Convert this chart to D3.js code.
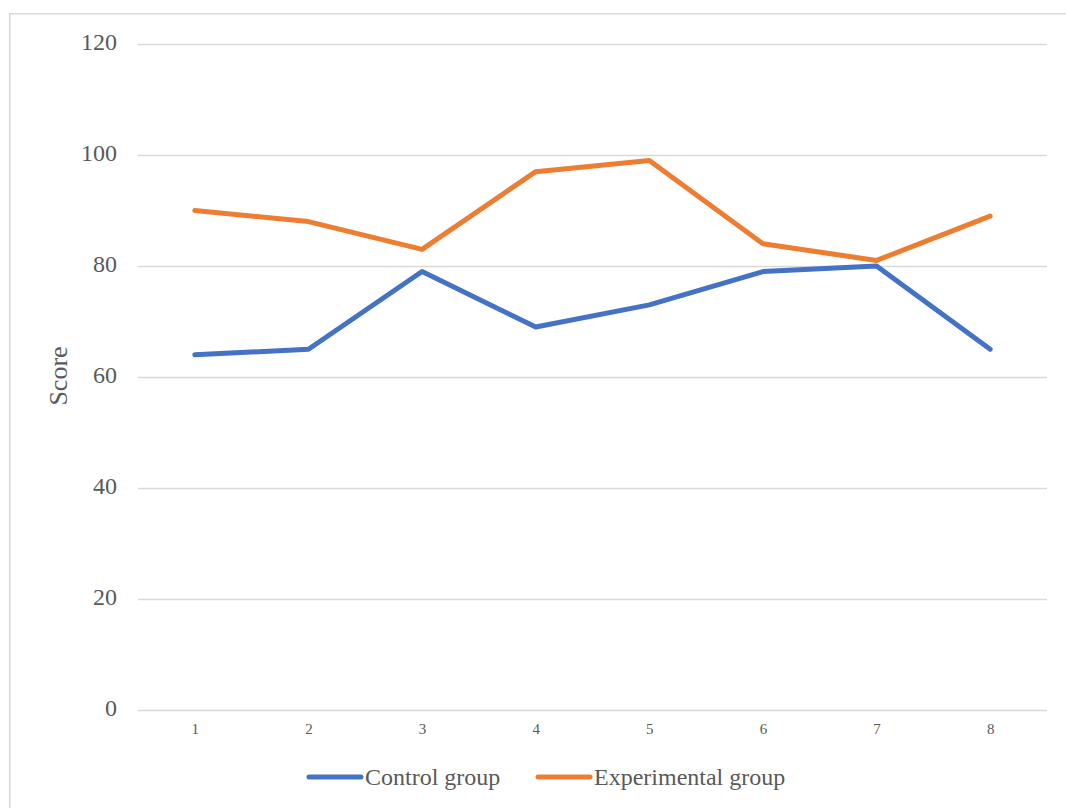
<!DOCTYPE html>
<html>
<head>
<meta charset="utf-8">
<script src="https://cdn.jsdelivr.net/npm/d3@7"></script>
<style>
  html, body { margin: 0; padding: 0; background: #fff; }
  svg { display: block; }
</style>
</head>
<body>
<svg id="chart" width="1066" height="808"></svg>
<script>
const categories = ["1", "2", "3", "4", "5", "6", "7", "8"];
const controlScores = [64, 65, 79, 69, 73, 79, 80, 65];
const experimentalScores = [90, 88, 83, 97, 99, 84, 81, 89];
const yTicks = [0, 20, 40, 60, 80, 100, 120];

const series = [
  { name: "Control group", values: controlScores, color: "#4472C4" },
  { name: "Experimental group", values: experimentalScores, color: "#ED7D31" }
];

const FONT = "'Liberation Serif', 'Times New Roman', Times, serif";
const TEXT_COLOR = "#595959";

const svg = d3.select("#chart");
const W = 1066, H = 808;
const plot = { left: 138, right: 1047, top: 44, bottom: 710 };

// chart frame
svg.append("rect")
  .attr("x", 9.75).attr("y", 13.75)
  .attr("width", W + 10).attr("height", H + 10)
  .attr("fill", "none").attr("stroke", "#d9d9d9").attr("stroke-width", 1.5);

const x = d3.scalePoint().domain(categories).range([plot.left, plot.right]).padding(0.5);
const y = d3.scaleLinear().domain([0, 120]).range([plot.bottom, plot.top]);

// horizontal gridlines with value labels
const yAxis = d3.axisLeft(y).tickValues(yTicks).tickSize(-(plot.right - plot.left)).tickPadding(21);
const gy = svg.append("g").attr("transform", `translate(${plot.left},0)`).call(yAxis);
gy.select(".domain").remove();
gy.selectAll(".tick line").attr("stroke", "#d9d9d9").attr("stroke-width", 1.5);
gy.selectAll(".tick text")
  .attr("dy", "0.22em")
  .attr("font-size", 24).attr("fill", TEXT_COLOR)
  .style("font-family", FONT);

// category labels
const xAxis = d3.axisBottom(x).tickSize(0).tickPadding(13.5);
const gx = svg.append("g").attr("transform", `translate(0,${plot.bottom})`).call(xAxis);
gx.select(".domain").remove();
gx.selectAll(".tick text")
  .attr("font-size", 15).attr("fill", TEXT_COLOR)
  .style("font-family", FONT);

// y-axis title
svg.append("text")
  .attr("transform", `translate(67,376) rotate(-90)`)
  .attr("text-anchor", "middle")
  .attr("font-size", 26)
  .attr("fill", TEXT_COLOR)
  .style("font-family", FONT)
  .text("Score");

// series lines
const line = d3.line()
  .x((d, i) => x(categories[i]))
  .y(d => y(d));

series.forEach(s => {
  svg.append("path")
    .datum(s.values)
    .attr("d", line)
    .attr("fill", "none")
    .attr("stroke", s.color)
    .attr("stroke-width", 5)
    .attr("stroke-linejoin", "round")
    .attr("stroke-linecap", "round");
});

// legend
const legendX = [307, 536];
series.forEach((s, i) => {
  const g = svg.append("g").attr("transform", `translate(${legendX[i]},777)`);
  g.append("line")
    .attr("x1", 2).attr("x2", 54)
    .attr("y1", 0).attr("y2", 0)
    .attr("stroke", s.color).attr("stroke-width", 5)
    .attr("stroke-linecap", "round");
  g.append("text")
    .attr("x", 58).attr("y", 8)
    .attr("font-size", 24)
    .attr("fill", TEXT_COLOR)
    .style("font-family", FONT)
    .text(s.name);
});
</script>
</body>
</html>
